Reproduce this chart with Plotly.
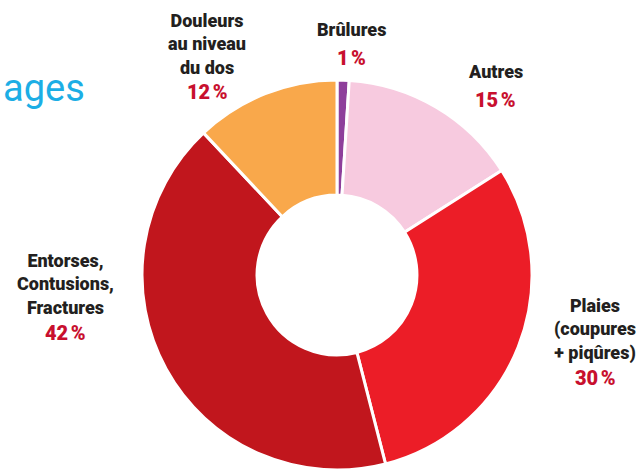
import plotly.graph_objects as go

categories = ["Brûlures", "Autres", "Plaies (coupures + piqûres)", "Entorses, Contusions, Fractures", "Douleurs au niveau du dos"]
values = [1, 15, 30, 42, 12]
label_lines = ["Brûlures", "Autres", "Plaies<br>(coupures<br>+ piqûres)", "Entorses,<br>Contusions,<br>Fractures", "Douleurs<br>au niveau<br>du dos"]
colors = ["#8E3F9B", "#F7CADF", "#EC1D27", "#C1161D", "#F9A84B"]

W, H = 643, 470
cx, top = 337, 80
R = 196

fig = go.Figure()
fig.add_trace(go.Pie(
    labels=categories, values=values, hole=0.41, sort=False, direction="clockwise",
    rotation=0, textinfo="none", hoverinfo="label+percent",
    marker=dict(colors=colors, line=dict(color="white", width=3)),
    domain=dict(x=[(cx - R) / W, (cx + R) / W], y=[0, (H - top) / H]),
    showlegend=False,
))

# label anchor positions (pixels: center x, y of first line center, y of percent)
pos = [
    (351, 29, 58),
    (495, 71, 100),
    (595, 305, 378),
    (65, 260, 333),
    (207, 20, 92),
]

ann = []
for lab, v, (x, y1, y2) in zip(label_lines, values, pos):
    ann.append(dict(x=x / W, y=1 - y1 / H, xref="paper", yref="paper", text=lab,
                    showarrow=False, xanchor="center", yanchor="top", yshift=12,
                    font=dict(family="Roboto", size=18, color="#231F20", weight=900), align="center"))
    ann.append(dict(x=x / W, y=1 - y2 / H, xref="paper", yref="paper", text=f"{v}\u202f%",
                    showarrow=False, xanchor="center", yanchor="middle",
                    font=dict(family="Roboto", size=20, color="#C8102E", weight=900)))

ann.append(dict(x=0, y=1 - 88 / H, xref="paper", yref="paper", text="ages", showarrow=False,
                xanchor="left", yanchor="middle", xshift=1,
                font=dict(family="Roboto", size=38, color="#1CAEE5", weight=400)))

fig.update_layout(
    width=W, height=H, margin=dict(l=0, r=0, t=0, b=0),
    paper_bgcolor="white", plot_bgcolor="white", annotations=ann,
)

fig.write_html("out.html")
